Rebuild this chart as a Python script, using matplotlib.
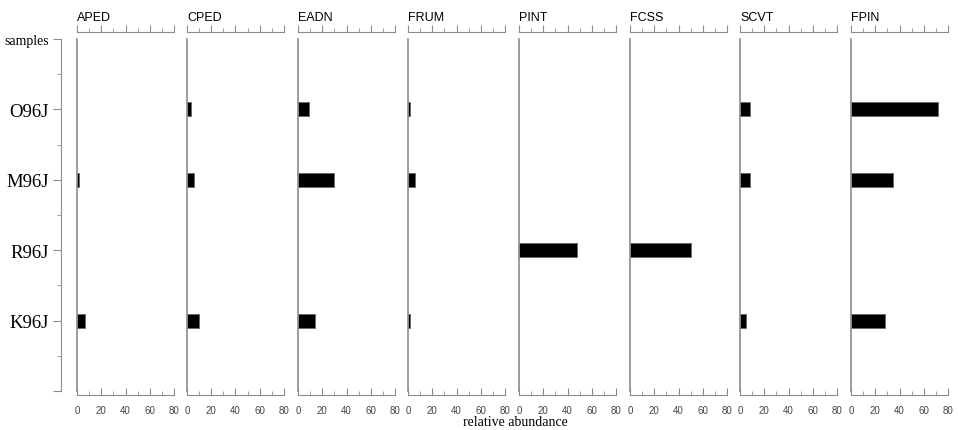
import numpy as np
from matplotlib import pyplot as plt
from matplotlib.ticker import MultipleLocator, FixedLocator

samples = ["O96J", "M96J", "R96J", "K96J"]
taxa = ["APED", "CPED", "EADN", "FRUM", "PINT", "FCSS", "SCVT", "FPIN"]

# relative abundance per taxon, in the order of samples
APED = [0, 2, 0, 7]
CPED = [3, 6, 0, 10]
EADN = [9, 30, 0, 14]
FRUM = [2, 6, 0, 2]
PINT = [0, 0, 48, 0]
FCSS = [0, 0, 50, 0]
SCVT = [8, 8, 0, 5]
FPIN = [72, 35, 0, 28]
values = [APED, CPED, EADN, FRUM, PINT, FCSS, SCVT, FPIN]

W, H = 958, 431
fig = plt.figure(figsize=(W / 100, H / 100), dpi=100)

sans = ["Liberation Sans", "DejaVu Sans"]
serif = ["Liberation Serif", "DejaVu Serif"]
grey = "#8c8c8c"

top_px, bot_px = 40, 392
pos = np.arange(1, len(samples) + 1)


def frac(x0, y0, w, h):
    return [x0 / W, (H - y0 - h) / H, w / W, h / H]


# sample axis on the left
axs = fig.add_axes(frac(61, top_px, 1, bot_px - top_px))
axs.set_ylim(5, 0)
axs.set_xticks([])
for s in ["top", "right", "bottom"]:
    axs.spines[s].set_visible(False)
axs.spines["left"].set_color(grey)
axs.yaxis.set_major_locator(FixedLocator([0, 1, 2, 3, 4, 5]))
axs.set_yticklabels(["samples"] + samples + [""])
axs.yaxis.set_minor_locator(FixedLocator([0.5, 1.5, 2.5, 3.5, 4.5]))
axs.tick_params(axis="y", which="major", length=6, color=grey, pad=3)
axs.tick_params(axis="y", which="minor", length=3, color=grey)
for i, lab in enumerate(axs.get_yticklabels()):
    lab.set_family(serif)
    lab.set_fontsize(10 if i == 0 else 13.5)

lefts = [77, 187, 298, 408, 519, 630, 740, 851]
for k, name in enumerate(taxa):
    ax = fig.add_axes(frac(lefts[k], top_px, 97, bot_px - top_px))
    v = np.array(values[k], dtype=float)
    keep = v > 0
    ax.barh(pos[keep], v[keep], height=0.2, color="black", edgecolor="#666666", linewidth=0.6)
    ax.set_xlim(0, 80)
    ax.set_ylim(5, 0)
    ax.set_yticks([])
    ax.spines["right"].set_visible(False)
    ax.spines["left"].set_color(grey)
    ax.spines["left"].set_linewidth(1.2)
    for s in ["top", "bottom"]:
        ax.spines[s].set_color(grey)
        ax.spines[s].set_bounds(0, 80)
    ax.spines["top"].set_position(("outward", 5))
    ax.spines["bottom"].set_position(("outward", 3))
    ax.xaxis.set_major_locator(MultipleLocator(20))
    ax.xaxis.set_minor_locator(MultipleLocator(10))
    ax.tick_params(axis="x", which="both", top=True, bottom=True, labeltop=False,
                   color=grey, labelsize=7, pad=2)
    ax.tick_params(axis="x", which="major", length=5)
    ax.tick_params(axis="x", which="minor", length=3)
    # top ticks point up (out), bottom ticks point up (in)
    for t in ax.xaxis.get_major_ticks() + ax.xaxis.get_minor_ticks():
        t.tick1line.set_marker(2)
        t.tick2line.set_marker(2)
    for lab in ax.get_xticklabels():
        lab.set_family(sans)
        lab.set_color("#444444")
    ax.set_title(name, loc="left", fontsize=9, family=sans, pad=14)

fig.text(515 / W, 1 - 423 / H, "relative abundance", ha="center", va="center",
         fontsize=10, family=serif)

fig.savefig("out.png", dpi=100)
